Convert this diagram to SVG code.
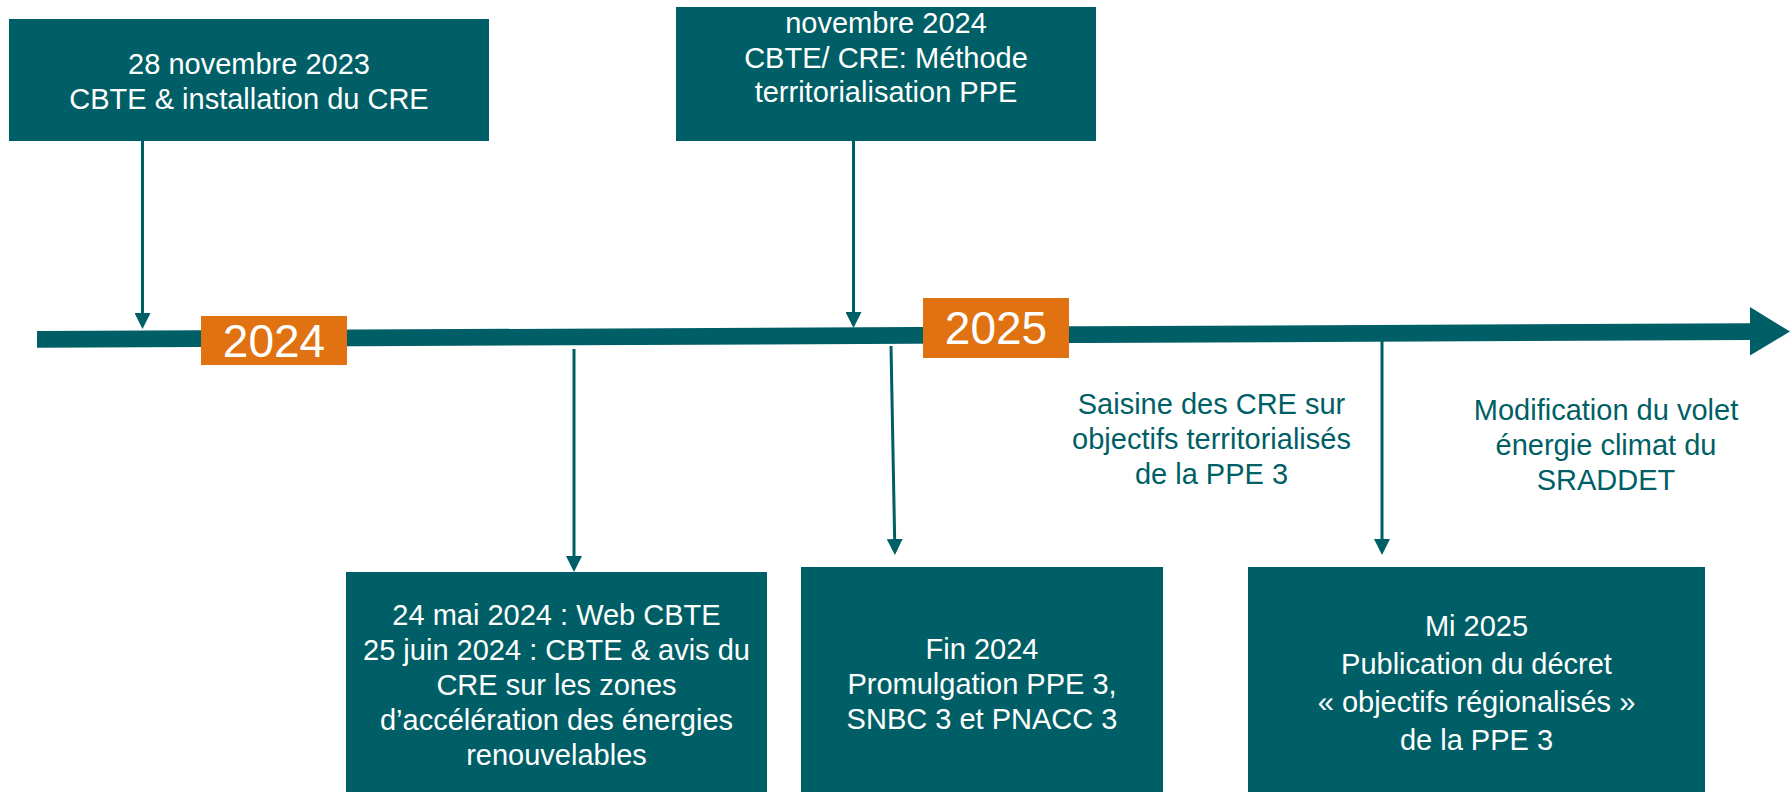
<svg xmlns="http://www.w3.org/2000/svg" width="1790" height="792" viewBox="0 0 1790 792">
<style>
.box{fill:#005F66}
.year{fill:#E07211}
.t{font-family:"Liberation Sans",Arial,sans-serif;font-size:29px;text-anchor:middle}
.w{fill:#FFFFFF}
.g{fill:#005F66}
.y{font-family:"Liberation Sans",Arial,sans-serif;font-size:46px;text-anchor:middle;fill:#FFFFFF}
.c{stroke:#005F66;stroke-width:3;fill:none}
</style>
<defs>
<marker id="ah" markerUnits="userSpaceOnUse" markerWidth="16" markerHeight="16" viewBox="0 0 16 16" refX="8" refY="8" orient="auto">
<path d="M0,0 L16,8 L0,16 z" fill="#005F66"/>
</marker>
</defs>
<rect width="1790" height="792" fill="#FFFFFF"/>
<g id="timeline">
<polygon class="box" points="37,331 1750,323.3 1750,307 1790,331.5 1750,355.5 1750,340 37,347.7"/>
</g>
<g id="year-2024">
<rect class="year" x="201" y="316" width="146" height="49"/>
<text class="y" x="274" y="357">2024</text>
</g>
<g id="year-2025">
<rect class="year" x="923" y="298" width="146" height="60"/>
<text class="y" x="996" y="344">2025</text>
</g>
<g id="connectors">
<line class="c" x1="142.5" y1="141" x2="142.5" y2="321" marker-end="url(#ah)"/>
<line class="c" x1="853.5" y1="141" x2="853.5" y2="320" marker-end="url(#ah)"/>
<line class="c" x1="574" y1="349" x2="574" y2="564" marker-end="url(#ah)"/>
<line class="c" x1="891" y1="346" x2="894.8" y2="547" marker-end="url(#ah)"/>
<line class="c" x1="1382" y1="341" x2="1382" y2="547" marker-end="url(#ah)"/>
</g>
<g id="node-nov2023">
<rect class="box" x="9" y="19" width="480" height="122"/>
<text class="t w" x="249" y="74">28 novembre 2023</text>
<text class="t w" x="249" y="109">CBTE &amp; installation du CRE</text>
</g>
<g id="node-nov2024">
<rect class="box" x="676" y="7" width="420" height="134"/>
<text class="t w" x="886" y="33">novembre 2024</text>
<text class="t w" x="886" y="67.5">CBTE/ CRE: Méthode</text>
<text class="t w" x="886" y="102">territorialisation PPE</text>
</g>
<g id="node-mai2024">
<rect class="box" x="346" y="572" width="421" height="220"/>
<text class="t w" x="556.5" y="625">24 mai 2024 : Web CBTE</text>
<text class="t w" x="556.5" y="660">25 juin 2024 : CBTE &amp; avis du</text>
<text class="t w" x="556.5" y="695">CRE sur les zones</text>
<text class="t w" x="556.5" y="730">d’accélération des énergies</text>
<text class="t w" x="556.5" y="765">renouvelables</text>
</g>
<g id="node-fin2024">
<rect class="box" x="801" y="567" width="362" height="225"/>
<text class="t w" x="982" y="659">Fin 2024</text>
<text class="t w" x="982" y="694">Promulgation PPE 3,</text>
<text class="t w" x="982" y="729">SNBC 3 et PNACC 3</text>
</g>
<g id="node-mi2025">
<rect class="box" x="1248" y="567" width="457" height="225"/>
<text class="t w" x="1476.5" y="636">Mi 2025</text>
<text class="t w" x="1476.5" y="674">Publication du décret</text>
<text class="t w" x="1476.5" y="712">« objectifs régionalisés »</text>
<text class="t w" x="1476.5" y="750">de la PPE 3</text>
</g>
<g id="label-saisine">
<text class="t g" x="1211.5" y="414">Saisine des CRE sur</text>
<text class="t g" x="1211.5" y="449">objectifs territorialisés</text>
<text class="t g" x="1211.5" y="484">de la PPE 3</text>
</g>
<g id="label-sraddet">
<text class="t g" x="1606" y="420">Modification du volet</text>
<text class="t g" x="1606" y="455">énergie climat du</text>
<text class="t g" x="1606" y="490">SRADDET</text>
</g>
</svg>
